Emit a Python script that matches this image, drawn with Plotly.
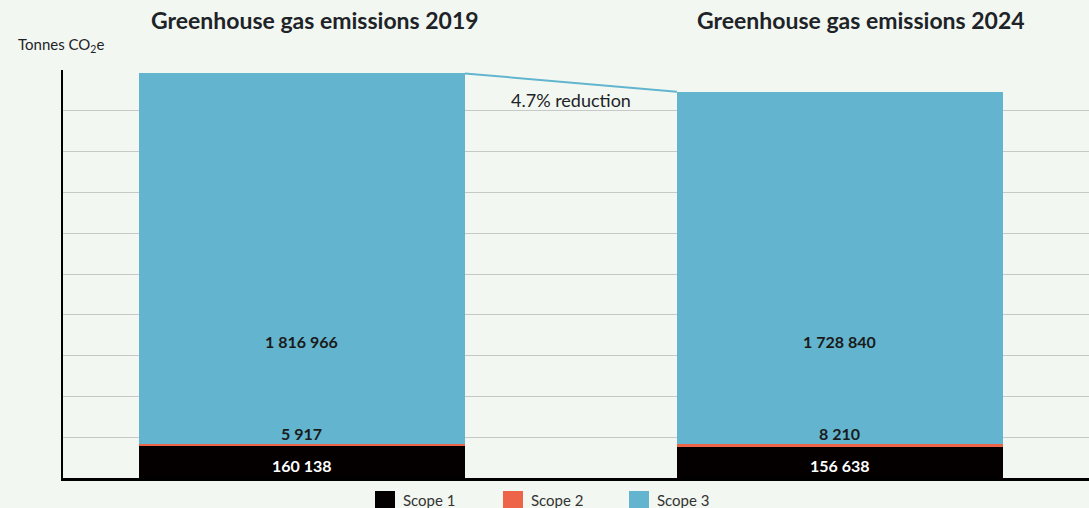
import plotly.graph_objects as go

years = ["2019", "2024"]
scope1 = [160138, 156638]
scope2 = [5917, 8210]
scope3 = [1816966, 1728840]
series_names = ["Scope 1", "Scope 2", "Scope 3"]
titles = ["Greenhouse gas emissions 2019", "Greenhouse gas emissions 2024"]
reduction_label = "4.7% reduction"

BG = "#f2f8f1"
COLORS = ["#040000", "#ee6449", "#63b5cf"]
FONT = "Lato"
xpos = [0, 1]
W = 0.606

ML, MR, MT, MB, FW, FH = 63, 0, 70, 30, 1089, 508
PW, PH = FW - ML - MR, FH - MT - MB


def px_x(p):
    return (p - ML) / PW


def px_y(p):
    return (FH - MB - p) / PH


def fmt(v):
    return f"{v:,}".replace(",", " ")


fig = go.Figure()
for name, vals, col in zip(series_names, [scope1, scope2, scope3], COLORS):
    fig.add_bar(x=xpos, y=vals, name=name, marker_color=col, width=W,
                marker_line_width=0, showlegend=False)

totals = [a + b + c for a, b, c in zip(scope1, scope2, scope3)]
fig.add_scatter(x=[xpos[0] + W / 2, xpos[1] - W / 2], y=totals, mode="lines",
                line=dict(color=COLORS[2], width=2), showlegend=False, hoverinfo="skip")

ann = []
for i, x in enumerate(xpos):
    ann.append(dict(x=x, y=670000, xref="x", yref="y", text=f"<b>{fmt(scope3[i])}</b>",
                    showarrow=False, font=dict(family=FONT, size=16, color="#1a1a1a")))
    ann.append(dict(x=x, y=220000, xref="x", yref="y", text=f"<b>{fmt(scope2[i])}</b>",
                    showarrow=False, font=dict(family=FONT, size=16, color="#1a1a1a")))
    ann.append(dict(x=x, y=63000, xref="x", yref="y", text=f"<b>{fmt(scope1[i])}</b>",
                    showarrow=False, font=dict(family=FONT, size=16, color="white")))
ann.append(dict(x=0.024, y=px_y(20), xref="x", yref="paper", text=f"<b>{titles[0]}</b>",
                showarrow=False, yanchor="middle", font=dict(family=FONT, size=23, color="#1e2328")))
ann.append(dict(x=1.039, y=px_y(20), xref="x", yref="paper", text=f"<b>{titles[1]}</b>",
                showarrow=False, yanchor="middle", font=dict(family=FONT, size=23, color="#1e2328")))
ann.append(dict(x=px_x(18), y=px_y(45), xref="paper", yref="paper", text="Tonnes CO<sub>2</sub>e",
                showarrow=False, xanchor="left", yanchor="middle", xshift=-2,
                font=dict(family=FONT, size=15, color="#1e2328")))
ann.append(dict(x=0.5, y=1855000, xref="x", yref="y", text=reduction_label,
                showarrow=False, font=dict(family=FONT, size=18, color="#1e2328")))

# legend drawn manually (larger swatches like the reference)
shapes = []
leg_x = [375, 503, 629]
for name, col, lx in zip(series_names, COLORS, leg_x):
    shapes.append(dict(type="rect", xref="paper", yref="paper",
                       x0=px_x(lx), x1=px_x(lx + 20), y0=px_y(511), y1=px_y(491),
                       fillcolor=col, line_width=0))
    ann.append(dict(x=px_x(lx + 28), y=px_y(500), xref="paper", yref="paper", text=name,
                    showarrow=False, xanchor="left", yanchor="middle", xshift=-2,
                    font=dict(family=FONT, size=15, color="#333333")))

fig.update_layout(
    barmode="stack",
    width=FW, height=FH,
    paper_bgcolor=BG, plot_bgcolor=BG,
    margin=dict(l=ML, r=MR, t=MT, b=MB, autoexpand=False),
    font=dict(family=FONT, color="#333333"),
    showlegend=False,
    annotations=ann,
    shapes=shapes,
    bargap=0,
)
fig.update_xaxes(range=[-0.444, 1.463], showticklabels=False, showgrid=False, zeroline=False,
                 showline=True, linecolor="#000000", linewidth=3, ticks="")
fig.update_yaxes(range=[0, 2000000], dtick=200000, showticklabels=False, showgrid=True,
                 gridcolor="#c8c8c8", gridwidth=1, zeroline=False,
                 showline=True, linecolor="#000000", linewidth=2, ticks="")

fig.write_html("out.html")
